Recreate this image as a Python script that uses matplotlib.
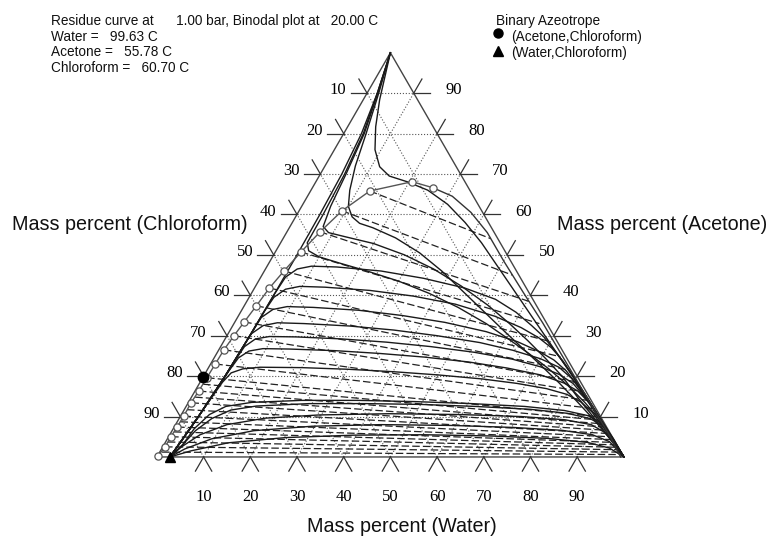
import matplotlib
matplotlib.use("Agg")
import matplotlib.pyplot as plt
import numpy as np

SQ3 = np.sqrt(3.0) / 2.0
TICKS = list(range(10, 100, 10))

# ---- data: mass percent (water, acetone); chloroform = 100 - water - acetone ----
binodal_w = [0.1, 0.5, 0.5, 0.6, 0.7, 0.6, 0.8, 0.9, 1.0, 1.1, 1.5, 2.0, 2.6, 3.2, 4.2, 5.5, 7.1, 9.2, 12.7, 20.6, 25.8]
binodal_a = [0.2, 2.5, 5.0, 7.4, 10.1, 13.4, 16.3, 19.6, 23.0, 26.5, 30.0, 33.4, 37.4, 41.8, 46.0, 50.7, 55.7, 60.9, 65.8, 68.1, 66.6]

water_branch_w = [25.8, 31, 37, 43, 50, 58, 66, 74, 82, 89, 95, 99.3]
water_branch_a = [66.6, 64.5, 60.5, 55.5, 48.5, 40.8, 33.2, 25.3, 17.4, 10.5, 4.6, 0]

tie_left_w = [0.5, 0.5, 0.5, 0.55, 0.6, 0.65, 0.7, 0.65, 0.6, 0.7, 0.8, 0.85, 0.9, 0.95, 1.0,
              1.1, 1.5, 2.0, 2.6, 3.2, 4.2, 5.5, 7.1, 9.2, 12.7]
tie_left_a = [1.2, 2.5, 3.7, 5.0, 6.2, 7.4, 8.7, 10.1, 11.7, 13.4, 14.8, 16.3, 18.0, 19.6, 23.0,
              26.5, 30.0, 33.4, 37.4, 41.8, 46.0, 50.7, 55.7, 60.9, 65.8]
tie_right_w = [98.9, 98.4, 97.7, 97.2, 96.5, 95.9, 95.2, 94.5, 93.7, 92.8, 92.1, 91.2, 90.4, 89.3, 87.3,
               85.2, 82.9, 80.4, 77.4, 74.0, 70.1, 65.4, 60.4, 53.6, 44.5]
tie_right_a = [0.6, 1.2, 1.8, 2.4, 3.0, 3.6, 4.3, 5.0, 5.8, 6.6, 7.4, 8.2, 9.1, 10.0, 12.0,
               14.0, 16.2, 18.6, 21.5, 24.8, 28.5, 33.0, 38.5, 45.0, 54.0]

# residue curves
res_top1_w = [0, 3.5, 6.0, 8.7, 11.8, 15, 19.5, 25, 31, 37, 43, 49, 55, 61, 67, 73, 79, 85, 90, 95, 100]
res_top1_a = [100, 88.4, 81.7, 76, 71.8, 69.5, 68.1, 66, 62.5, 58, 53, 47.5, 42, 36.5, 31, 25.5, 20, 14.5, 9.5, 4.8, 0]
res_top2_w = [0, 2.5, 4.8, 6.5, 8.3, 10, 12.1, 14.5, 17.9, 24, 31, 38, 45, 52, 59, 65, 71, 77, 83, 89, 94.5, 100]
res_top2_a = [100, 90, 80, 72, 66, 62, 59.4, 57.8, 56.7, 54.2, 50.5, 46, 41, 36, 31, 26.8, 22.6, 18.3, 13.8, 9.2, 4.7, 0]
res_top3_w = [0, 2.3, 4.4, 5.5, 6.2, 7.1, 9, 13, 20, 28, 36, 44, 52, 59, 65, 71, 77, 83, 89, 94.5, 100]
res_top3_a = [100, 90, 80, 70, 62, 57, 55.5, 54.5, 52.8, 50, 46.5, 42.3, 37.6, 33, 28.8, 24.4, 19.8, 14.5, 9.5, 4.8, 0]
res_top4_w = [0, 2.2, 4.2, 5.2, 5.6, 5.7, 7, 10, 15, 22, 30, 38, 46, 54, 61, 67, 73, 79, 85, 90.5, 95.5, 100]
res_top4_a = [100, 90, 80, 70, 60, 53, 51, 49.5, 48, 46, 43.5, 40.5, 37, 33, 29, 25.5, 21.8, 17.8, 13.4, 9, 4.5, 0]

boundary_w = [2.8, 3.4, 3.9, 4.3, 4.6, 4.8, 4.9, 5.0, 5.0, 4.9, 4.6, 3.8, 2.2, 0]
boundary_a = [0, 5, 10, 15, 20, 25, 30, 40, 50, 60, 70, 80, 90, 100]

res_mid1_w = [2.8, 3.9, 4.6, 4.9, 5.0, 5.3, 6.8, 9.5, 15, 25, 35, 45, 53, 59, 64, 68, 73, 78, 84, 90, 95.5, 100]
res_mid1_a = [0, 10, 20, 30, 40, 44.5, 46.5, 47.2, 47, 46, 44.2, 41.8, 39, 35.8, 32.5, 29.7, 25.5, 21, 15.4, 9.7, 4.4, 0]
res_mid2_w = [2.8, 3.9, 4.6, 4.9, 5.0, 5.3, 6.8, 9.5, 15, 25, 35, 45, 55, 62, 67, 71, 75, 80, 86, 91.5, 96, 100]
res_mid2_a = [0, 10, 20, 30, 36, 39.5, 41.5, 42.2, 42, 41.2, 39.8, 37.8, 34.8, 32, 29.5, 27, 23.8, 19.2, 13.5, 8.2, 3.8, 0]
res_mid3_w = [2.8, 3.9, 4.6, 4.9, 5.1, 6.6, 9.3, 15, 25, 35, 45, 55, 63, 69, 73, 77, 81, 86, 91.5, 96, 100]
res_mid3_a = [0, 10, 20, 30, 34.5, 36.5, 37.2, 37, 36.3, 35, 33.3, 31, 28.5, 26, 24, 21.3, 17.9, 13.3, 8.1, 3.8, 0]
res_mid4_w = [2.8, 3.9, 4.6, 4.8, 5.0, 6.5, 9.2, 15, 25, 35, 45, 55, 63, 70, 75, 79, 83, 87.5, 92, 96.2, 100]
res_mid4_a = [0, 10, 20, 27, 30.5, 32.5, 33.2, 33, 32.4, 31.4, 30, 28.3, 26.4, 24.3, 22.2, 19.5, 16.1, 12, 7.7, 3.6, 0]
res_mid5_w = [2.8, 3.9, 4.6, 4.8, 5.1, 6.5, 9.2, 15, 25, 35, 45, 55, 64, 71, 76, 80, 84, 88, 92.3, 96.3, 100]
res_mid5_a = [0, 10, 20, 24, 27.3, 29.2, 29.8, 29.7, 29.2, 28.4, 27.3, 25.9, 24.2, 22.3, 20.4, 18.2, 15, 11.4, 7.3, 3.5, 0]
res_mid6_w = [2.8, 3.9, 4.5, 4.8, 5.2, 6.6, 9.3, 15, 25, 35, 45, 55, 64, 72, 78, 82, 86, 89.5, 93, 96.6, 100]
res_mid6_a = [0, 10, 18, 21.5, 24.5, 26.2, 26.8, 26.7, 26.3, 25.6, 24.7, 23.5, 22, 20.3, 18.3, 16.3, 13.3, 10, 6.6, 3.2, 0]
res_mid7_w = [2.8, 3.9, 4.4, 4.8, 5.5, 7.5, 11, 20, 30, 40, 50, 60, 68, 75, 80, 84, 87.5, 91, 94.5, 97.5, 100]
res_mid7_a = [0, 10, 15, 18.5, 20.8, 21.8, 22.2, 22.1, 21.7, 21.1, 20.3, 19.3, 18.2, 16.9, 15.5, 13.6, 11.2, 8.2, 5, 2.3, 0]

res_low1_w = [2.8, 4, 4.5, 6, 8.5, 13.5, 24, 36, 48.3, 60.8, 72.5, 81.5, 87.3, 90.7, 94.7, 100]
res_low1_a = [0, 3, 7, 10.5, 12.5, 13.5, 14, 14, 13.7, 13.2, 12.5, 11.5, 10.2, 8.5, 5, 0]
res_low2_w = [2.8, 4, 5, 7, 10, 15, 26, 38, 50, 62, 74, 82.5, 88, 91.5, 95.2, 100]
res_low2_a = [0, 3, 6.5, 9.5, 11.6, 12.6, 13.2, 13.2, 13, 12.5, 11.8, 10.8, 9.5, 7.8, 4.6, 0]
res_low3_w = [2.8, 4, 6.5, 11, 18.4, 29.6, 44.3, 59.5, 73, 82.8, 89, 93, 96.7, 100]
res_low3_a = [0, 2.5, 5.5, 8, 9.6, 10.4, 10.7, 10.5, 10, 9.2, 8, 6, 3, 0]
res_low4_w = [2.8, 5, 9.5, 17.5, 29.4, 44, 59.2, 72.7, 83.4, 90.5, 95, 100]
res_low4_a = [0, 2, 4.5, 6.5, 7.6, 8, 7.8, 7.3, 6.6, 5.5, 3.8, 0]
res_low5_w = [2.8, 6.5, 13.5, 25.2, 39.6, 54.5, 68.8, 81.4, 90.4, 95.8, 100]
res_low5_a = [0, 1.5, 3.5, 4.8, 5.4, 5.5, 5.2, 4.6, 3.6, 2.2, 0]

azeo_ac_w, azeo_ac_a = 0.0, 19.8
azeo_wc_w, azeo_wc_a = 2.8, 0.0

header_lines = [
    "Residue curve at      1.00 bar, Binodal plot at   20.00 C",
    "Water =   99.63 C",
    "Acetone =   55.78 C",
    "Chloroform =   60.70 C",
]


def tern(w, a):
    w = np.asarray(w, dtype=float)
    a = np.asarray(a, dtype=float)
    return w + a / 2.0, a * SQ3


W_PX, H_PX = 771, 538
fig = plt.figure(figsize=(W_PX / 100, H_PX / 100), dpi=100)
ax = fig.add_axes([0, 0, 1, 1])
ax.set_xlim(-33.6, 131.5)
ax.set_ylim(-17.36, 97.9)
ax.axis("off")

grid_kw = dict(color="#555555", lw=0.8, ls=":", zorder=1)
for v in TICKS:
    ax.plot(*tern([0, 100 - v], [v, v]), **grid_kw)            # constant acetone
    ax.plot(*tern([v, v], [0, 100 - v]), **grid_kw)            # constant water
    ax.plot(*tern([100 - v, 0], [0, 100 - v]), **grid_kw)      # constant chloroform

ax.plot(*tern([0, 100, 0, 0], [0, 0, 100, 0]), color="#444444", lw=1.0, zorder=3)

# ticks and tick labels
L = 3.5
tick_kw = dict(color="#333333", lw=0.9, zorder=3)
num_font = dict(family="Liberation Serif", fontsize=12, color="black")
for v in TICKS:
    # left edge (chloroform)
    x0, y0 = tern(0, 100 - v)
    ax.plot([x0, x0 - L], [y0, y0], **tick_kw)
    ax.plot([x0, x0 - 0.5 * L], [y0, y0 + SQ3 * L], **tick_kw)
    ax.text(x0 - 4.4, y0 + 0.6, str(v), ha="right", va="center", **num_font)
    # right edge (acetone)
    x0, y0 = tern(100 - v, v)
    ax.plot([x0, x0 + L], [y0, y0], **tick_kw)
    ax.plot([x0, x0 + 0.5 * L], [y0, y0 + SQ3 * L], **tick_kw)
    ax.text(x0 + 6.8, y0 + 0.6, str(v), ha="left", va="center", **num_font)
    # bottom edge (water)
    x0, y0 = tern(v, 0)
    ax.plot([x0, x0 - 0.5 * L], [y0, y0 - SQ3 * L], **tick_kw)
    ax.plot([x0, x0 + 0.5 * L], [y0, y0 - SQ3 * L], **tick_kw)
    ax.text(x0, -8.6, str(v), ha="center", va="center", **num_font)

# tie lines
for lw_, la_, rw_, ra_ in zip(tie_left_w, tie_left_a, tie_right_w, tie_right_a):
    ax.plot(*tern([lw_, rw_], [la_, ra_]), color="#222222", lw=0.9,
            ls=(0, (6, 2.5)), zorder=4)

# residue curves
residue_curves = [
    (res_top1_w, res_top1_a), (res_top2_w, res_top2_a), (res_top3_w, res_top3_a),
    (res_top4_w, res_top4_a), (boundary_w, boundary_a),
    (res_mid1_w, res_mid1_a), (res_mid2_w, res_mid2_a), (res_mid3_w, res_mid3_a),
    (res_mid4_w, res_mid4_a), (res_mid5_w, res_mid5_a), (res_mid6_w, res_mid6_a),
    (res_mid7_w, res_mid7_a),
    (res_low1_w, res_low1_a), (res_low2_w, res_low2_a), (res_low3_w, res_low3_a),
    (res_low4_w, res_low4_a), (res_low5_w, res_low5_a),
]
for cw, ca in residue_curves:
    ax.plot(*tern(cw, ca), color="#1a1a1a", lw=1.0, zorder=5)

# binodal
ax.plot(*tern(water_branch_w, water_branch_a), color="#333333", lw=1.0, zorder=5)
ax.plot(*tern(binodal_w, binodal_a), color="#555555", lw=1.0, marker="o", ms=5.2,
        mfc="white", mec="#555555", mew=0.9, zorder=6)

# azeotropes
ax.plot(*tern(azeo_ac_w, azeo_ac_a), "o", color="black", ms=7.5, zorder=7)
ax.plot(*tern(azeo_wc_w, azeo_wc_a), "^", color="black", ms=7.5, zorder=7)


def px(x, y):
    return x / W_PX, 1 - y / H_PX


sans = dict(family="Liberation Sans", color="#111111")
for i, line in enumerate(header_lines):
    fig.text(*px(51, 21.5 + 15.5 * i), line, ha="left", va="center", fontsize=9.8, **sans)

fig.text(*px(496, 20.7), "Binary Azeotrope", ha="left", va="center", fontsize=9.8, **sans)
fig.text(*px(510.7, 36.7), "(Acetone,Chloroform)", ha="left", va="center", fontsize=9.8, **sans)
fig.text(*px(510.7, 53.3), "(Water,Chloroform)", ha="left", va="center", fontsize=9.8, **sans)
ax.plot(*px(498, 33), "o", color="black", ms=6.5, transform=fig.transFigure)
ax.plot(*px(498, 51), "^", color="black", ms=6.5, transform=fig.transFigure)

fig.text(*px(248, 225), "Mass percent (Chloroform)", ha="right", va="center", fontsize=14.2, **sans)
fig.text(*px(557, 225), "Mass percent (Acetone)", ha="left", va="center", fontsize=14.2, **sans)
fig.text(*px(402, 527), "Mass percent (Water)", ha="center", va="center", fontsize=14.2, **sans)

fig.savefig("out.png", dpi=100)
